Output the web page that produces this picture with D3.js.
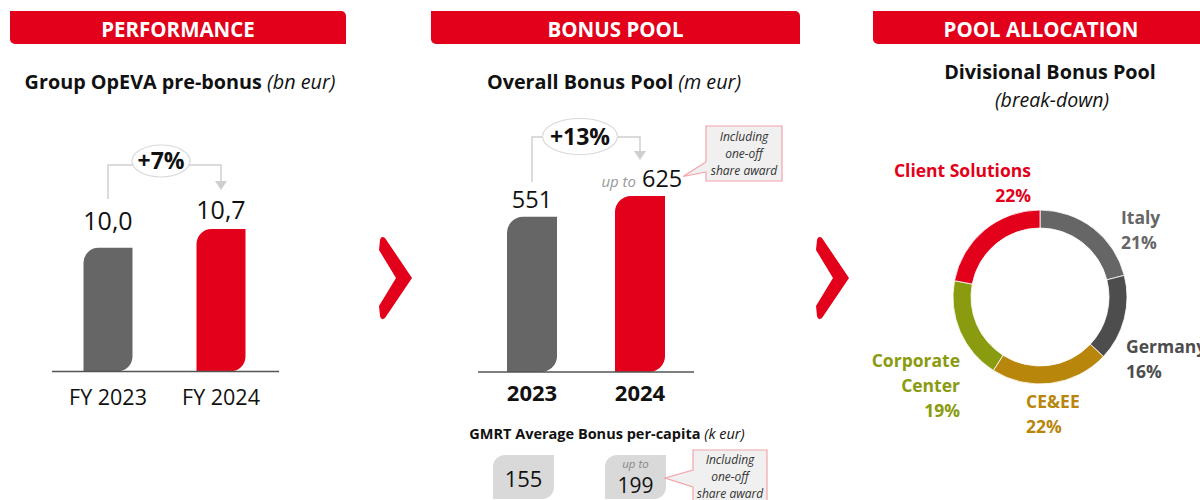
<!DOCTYPE html>
<html>
<head>
<meta charset="utf-8">
<script src="https://cdn.jsdelivr.net/npm/d3@7"></script>
<style>
  html, body { margin: 0; padding: 0; background: #fff; }
  svg { display: block; font-family: "Open Sans", sans-serif; }
</style>
</head>
<body>
<svg id="chart" width="1200" height="500"></svg>
<script>
// ---- data ----
const sectionTitles = ["PERFORMANCE", "BONUS POOL", "POOL ALLOCATION"];

const perfCategories = ["FY 2023", "FY 2024"];
const perfValues = [10.0, 10.7];
const perfLabels = ["10,0", "10,7"];
const perfGrowth = "+7%";

const poolCategories = ["2023", "2024"];
const poolValues = [551, 625];
const poolLabels = ["551", "625"];
const poolGrowth = "+13%";

const perCapitaValues = [155, 199];
const perCapitaLabels = ["155", "199"];

const divisionNames = ["Italy", "Germany", "CE&EE", "Corporate\nCenter", "Client Solutions"];
const divisionShares = [21, 16, 22, 19, 22];

const calloutLines = ["Including", "one-off", "share award"];

// ---- styles ----
const RED = "#e2001a";
const GREY = "#666666";
const barColors = [GREY, RED];
const divisionColors = ["#666666", "#4d4d4d", "#b8860b", "#8a9b0f", RED];

const svg = d3.select("#chart");

// shape helpers: rounded top-left + bottom-right corners
function leaf(x, y, w, h, r) {
  return `M${x},${y + h} V${y + r} A${r},${r} 0 0 1 ${x + r},${y} H${x + w} V${y + h - r} A${r},${r} 0 0 1 ${x + w - r},${y + h} Z`;
}
// rounded top-right + bottom-left corners
function tab(x, y, w, h, r) {
  return `M${x},${y} H${x + w - r} A${r},${r} 0 0 1 ${x + w},${y + r} V${y + h} H${x + r} A${r},${r} 0 0 1 ${x},${y + h - r} Z`;
}

// ---- section headers ----
const headers = [
  { x: 10, w: 336 }, { x: 431, w: 369 }, { x: 873, w: 336 }
];
headers.forEach((h, i) => {
  svg.append("path").attr("d", tab(h.x, 11, h.w, 33, 5)).attr("fill", RED);
  svg.append("text").attr("x", h.x + h.w / 2).attr("y", 36.5)
    .attr("text-anchor", "middle").attr("fill", "#fff")
    .attr("font-size", 20.5).attr("font-weight", 700)
    .text(sectionTitles[i]);
});

// subtitles
function subtitle(cx, y, bold, ital, size) {
  const t = svg.append("text").attr("x", cx).attr("y", y)
    .attr("text-anchor", "middle").attr("font-size", size).attr("fill", "#111");
  t.append("tspan").attr("font-weight", 700).text(bold);
  if (ital) t.append("tspan").attr("font-style", "italic").attr("font-weight", 400).text(" " + ital);
}
subtitle(180, 89, "Group OpEVA pre-bonus", "(bn eur)", 19.8);
subtitle(614, 89, "Overall Bonus Pool", "(m eur)", 19.8);
subtitle(1050, 79, "Divisional Bonus Pool", null, 19.8);
svg.append("text").attr("x", 1052).attr("y", 107).attr("text-anchor", "middle")
  .attr("font-size", 19.5).attr("font-style", "italic").attr("fill", "#111").text("(break-down)");

// growth bracket between two bars
function bracket(x1, x2, yStart, yLine, yArrow, ex, ey, rx, ry, label) {
  const g = svg.append("g");
  g.append("path")
    .attr("d", `M${x1},${yStart} V${yLine} H${x2} V${yArrow - 8}`)
    .attr("fill", "none").attr("stroke", "#cfcfcf").attr("stroke-width", 1.5);
  g.append("path")
    .attr("d", `M${x2 - 6},${yArrow - 9} L${x2 + 6},${yArrow - 9} L${x2},${yArrow} Z`)
    .attr("fill", "#cfcfcf");
  g.append("ellipse").attr("cx", ex).attr("cy", ey).attr("rx", rx).attr("ry", ry)
    .attr("fill", "#fff").attr("stroke", "#d9d9d9").attr("stroke-width", 1.2);
  g.append("text").attr("x", ex).attr("y", ey + 8).attr("text-anchor", "middle")
    .attr("font-size", 23).attr("font-weight", 700).attr("fill", "#111").text(label);
}

// callout box with pointer
function callout(x, y, w, h, tipX, tipY, p1, p2, lineYs) {
  svg.append("path")
    .attr("d", `M${x},${y} H${x + w} V${y + h} H${x} V${p2} L${tipX},${tipY} L${x},${p1} Z`)
    .attr("fill", "#f0f0f0").attr("stroke", "#f3a3aa").attr("stroke-width", 1.2);
  calloutLines.forEach((l, i) => {
    svg.append("text").attr("x", x + w / 2).attr("y", lineYs[i]).attr("text-anchor", "middle")
      .attr("font-size", 12).attr("font-style", "italic").attr("fill", "#333").text(l);
  });
}

// ---- panel 1: performance ----
{
  const x = d3.scalePoint().domain(perfCategories).range([108, 221]);
  const y = d3.scaleLinear().domain([5.4, 10.7]).range([371.5, 229]);
  const bw = 49;
  perfCategories.forEach((c, i) => {
    const top = y(perfValues[i]);
    svg.append("path").attr("d", leaf(x(c) - bw / 2, top, bw, y.range()[0] - top, 15)).attr("fill", barColors[i]);
  });
  svg.append("line").attr("x1", 52).attr("x2", 279).attr("y1", 371.5).attr("y2", 371.5)
    .attr("stroke", "#555").attr("stroke-width", 1.5);
  const gaps = [18, 10];
  perfCategories.forEach((c, i) => {
    svg.append("text").attr("x", x(c)).attr("y", y(perfValues[i]) - gaps[i])
      .attr("text-anchor", "middle").attr("font-size", 25).attr("fill", "#111").text(perfLabels[i]);
    svg.append("text").attr("x", x(c)).attr("y", 405)
      .attr("text-anchor", "middle").attr("font-size", 21.5).attr("fill", "#111").text(c);
  });
  bracket(x(perfCategories[0]), x(perfCategories[1]), 199, 165, 190, 161, 161, 29, 16, perfGrowth);
}

// ---- panel 2: bonus pool ----
{
  const x = d3.scalePoint().domain(poolCategories).range([532, 640]);
  const y = d3.scaleLinear().domain([0, 625]).range([372, 196]);
  const bw = 50;
  poolCategories.forEach((c, i) => {
    const top = y(poolValues[i]);
    svg.append("path").attr("d", leaf(x(c) - bw / 2, top, bw, y.range()[0] - top, 16)).attr("fill", barColors[i]);
  });
  svg.append("line").attr("x1", 478).attr("x2", 694).attr("y1", 372).attr("y2", 372)
    .attr("stroke", "#555").attr("stroke-width", 1.5);
  poolCategories.forEach((c, i) => {
    svg.append("text").attr("x", x(c)).attr("y", 401)
      .attr("text-anchor", "middle").attr("font-size", 22).attr("font-weight", 700).attr("fill", "#111").text(c);
  });
  const c0 = x(poolCategories[0]), c1 = x(poolCategories[1]);
  svg.append("text").attr("x", c0).attr("y", y(poolValues[0]) - 9)
    .attr("text-anchor", "middle").attr("font-size", 23.5).attr("fill", "#111").text(poolLabels[0]);
  svg.append("text").attr("x", c1 + 2).attr("y", y(poolValues[1]) - 9)
    .attr("font-size", 23.5).attr("fill", "#111").text(poolLabels[1]);
  svg.append("text").attr("x", c1 - 4).attr("y", y(poolValues[1]) - 9).attr("text-anchor", "end")
    .attr("font-size", 15).attr("font-style", "italic").attr("fill", "#999").text("up to");
  bracket(c0, c1, 182, 137, 160, 580, 136.5, 37.5, 18, poolGrowth);
  callout(706, 126, 76, 55, 683, 176.5, 162, 172, [141, 158, 175]);

  // per-capita boxes
  subtitle(607, 439, "GMRT Average Bonus per-capita", "(k eur)", 14.5);
  const bx = [493, 605];
  perCapitaValues.forEach((v, i) => {
    svg.append("path").attr("d", leaf(bx[i], 455, 61, 44, 12)).attr("fill", "#d9d9d9");
  });
  svg.append("text").attr("x", bx[0] + 30.5).attr("y", 487).attr("text-anchor", "middle")
    .attr("font-size", 22).attr("fill", "#111").text(perCapitaLabels[0]);
  svg.append("text").attr("x", bx[1] + 30.5).attr("y", 468).attr("text-anchor", "middle")
    .attr("font-size", 11.5).attr("font-style", "italic").attr("fill", "#888").text("up to");
  svg.append("text").attr("x", bx[1] + 30.5).attr("y", 493).attr("text-anchor", "middle")
    .attr("font-size", 21).attr("fill", "#111").text(perCapitaLabels[1]);
  callout(693, 450, 74, 60, 665, 478, 470, 487, [464, 481, 498]);
}

// ---- chevrons between panels ----
[0, 437].forEach(dx => {
  svg.append("path")
    .attr("d", `M${380 + dx},240 Q${381 + dx},235 ${385 + dx},238 L${412 + dx},278 L${385 + dx},318 Q${381 + dx},321 ${380 + dx},316 L${379 + dx},306 L${396 + dx},278 L${379 + dx},250 Z`)
    .attr("fill", RED);
});

// ---- panel 3: divisional donut ----
{
  const cx = 1040, cy = 297;
  const pie = d3.pie().sort(null).value(d => d)(divisionShares);
  const arc = d3.arc().innerRadius(69).outerRadius(87);
  const g = svg.append("g").attr("transform", `translate(${cx},${cy})`);
  g.selectAll("path").data(pie).join("path")
    .attr("d", arc).attr("fill", (d, i) => divisionColors[i])
    .attr("stroke", "#fff").attr("stroke-width", 0.8);

  const labelLayout = [
    { x: 1121, y: 224, anchor: "start" },
    { x: 1126, y: 353, anchor: "start" },
    { x: 1026, y: 408, anchor: "start" },
    { x: 960, y: 367, anchor: "end" },
    { x: 1031, y: 177, anchor: "end" }
  ];
  divisionNames.forEach((n, i) => {
    const L = labelLayout[i];
    const lines = n.split("\n").concat([divisionShares[i] + "%"]);
    const t = svg.append("text").attr("text-anchor", L.anchor)
      .attr("font-size", 17.5).attr("font-weight", 700).attr("fill", divisionColors[i]);
    lines.forEach((l, j) => {
      t.append("tspan").attr("x", L.x).attr("y", L.y + j * 25).text(l);
    });
  });
}
</script>
</body>
</html>
